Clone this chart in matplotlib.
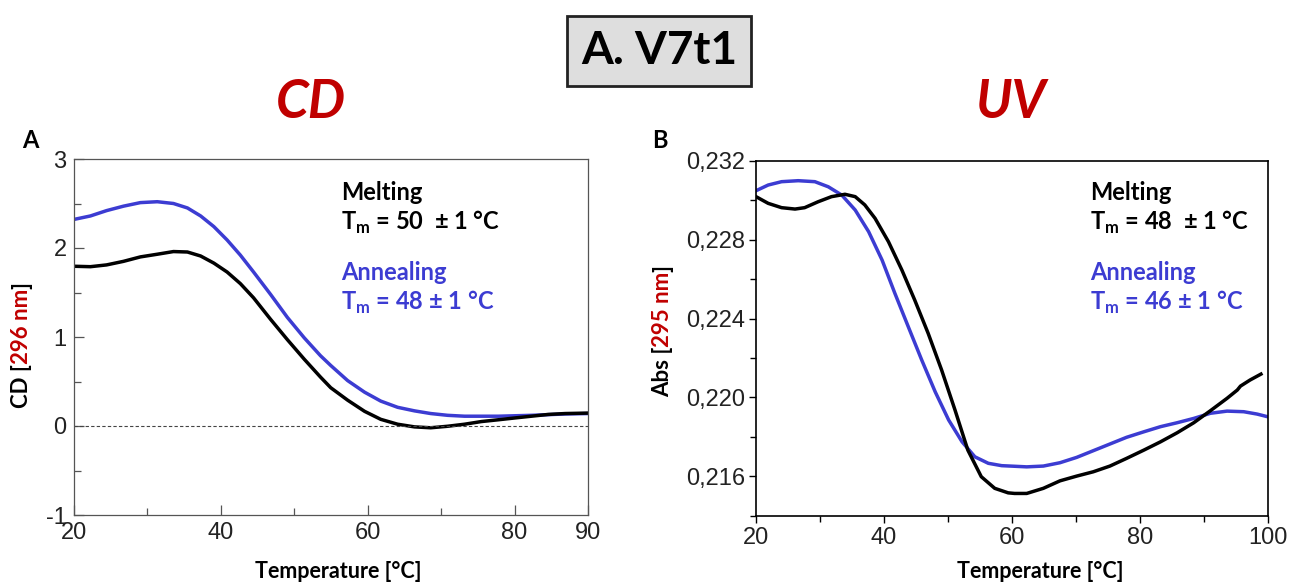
import matplotlib
matplotlib.use("Agg")
import matplotlib.pyplot as plt
import matplotlib.ticker as mticker

plt.rcParams["axes.unicode_minus"] = False

# --- CD (296 nm)
cd_T_melt = [20.0, 22.3, 24.5, 26.8, 29.1, 31.4, 33.6, 35.5, 37.3, 39.1, 40.9, 42.7, 44.5, 46.8,
             49.1, 51.4, 53.6, 55.0, 57.3, 59.6, 61.8, 64.1, 66.4, 68.6, 70.9, 73.2, 75.5,
             77.8, 80.0, 82.3, 84.6, 86.9, 90.0]
cd_melt = [1.795, 1.79, 1.81, 1.85, 1.90, 1.93, 1.96, 1.955, 1.91, 1.83, 1.73, 1.60, 1.44, 1.20,
           0.97, 0.75, 0.55, 0.43, 0.29, 0.165, 0.075, 0.02, -0.01, -0.02, -0.003, 0.02, 0.05,
           0.07, 0.09, 0.11, 0.13, 0.14, 0.145]
cd_T_ann = [20.0, 22.3, 24.5, 26.8, 29.1, 31.4, 33.6, 35.5, 37.3, 39.1, 40.9, 42.7, 44.5, 46.8,
            49.1, 51.4, 53.6, 55.0, 57.3, 59.6, 61.8, 64.1, 66.4, 68.6, 70.9, 73.2, 77.8,
            82.3, 86.9, 90.0]
cd_ann = [2.32, 2.36, 2.42, 2.47, 2.51, 2.52, 2.50, 2.45, 2.36, 2.24, 2.09, 1.92, 1.73, 1.48,
          1.22, 0.99, 0.79, 0.68, 0.51, 0.38, 0.28, 0.21, 0.17, 0.14, 0.12, 0.11, 0.11,
          0.12, 0.135, 0.14]

# --- UV (295 nm)
uv_T_melt = [20.0, 21.9, 24.0, 26.1, 27.6, 29.7, 31.8, 33.9, 35.5, 37.0, 38.6, 40.7, 42.8, 44.8,
             46.9, 49.0, 51.1, 53.1, 55.2, 57.3, 59.4, 60.4, 62.3, 64.9, 67.5, 70.1, 72.7,
             75.3, 77.9, 80.6, 83.2, 85.8, 88.4, 91.0, 93.6, 95.2, 95.7, 97.2, 98.9]
uv_melt = [0.23019, 0.22985, 0.22963, 0.22956, 0.22963, 0.22993, 0.23019, 0.23031, 0.23019,
           0.22977, 0.22909, 0.22790, 0.22646, 0.22494, 0.22325, 0.22139, 0.21935, 0.21732,
           0.21597, 0.21538, 0.21515, 0.21512, 0.21512, 0.21538, 0.21576, 0.21600, 0.21622,
           0.21651, 0.21690, 0.21732, 0.21774, 0.21820, 0.21871, 0.21932, 0.21995, 0.22037,
           0.22057, 0.22088, 0.22118]
uv_T_ann = [20.0, 21.9, 24.0, 26.6, 29.2, 31.3, 33.4, 35.5, 37.6, 39.7, 41.7, 43.8, 45.9, 48.0,
            50.1, 52.2, 54.2, 56.3, 58.4, 60.4, 62.3, 64.9, 67.5, 70.1, 72.7, 75.3, 77.9,
            80.6, 83.2, 85.8, 88.4, 91.0, 93.6, 96.2, 98.3, 100.0]
uv_ann = [0.23049, 0.23078, 0.23095, 0.23100, 0.23095, 0.23069, 0.23027, 0.22951, 0.22841,
          0.22697, 0.22528, 0.22358, 0.22189, 0.22028, 0.21885, 0.21774, 0.21698, 0.21665,
          0.21653, 0.21650, 0.21647, 0.21651, 0.21668, 0.21695, 0.21729, 0.21763, 0.21797,
          0.21825, 0.21851, 0.21871, 0.21893, 0.21919, 0.21930, 0.21927, 0.21915, 0.21901]

cd_labels = ["Melting", "T$_\\mathregular{m}$ = 50  \u00b1 1 \u00b0C", "Annealing", "T$_\\mathregular{m}$ = 48 \u00b1 1 \u00b0C"]
uv_labels = ["Melting", "T$_\\mathregular{m}$ = 48  \u00b1 1 \u00b0C", "Annealing", "T$_\\mathregular{m}$ = 46 \u00b1 1 \u00b0C"]

BLUE = "#3c3cd2"
RED = "#c00000"
TXT = ["Lato", "DejaVu Sans"]
TICKF = ["Liberation Sans Narrow", "Liberation Sans", "DejaVu Sans"]

fig = plt.figure(figsize=(12.95, 5.83), dpi=100)
W, H = 1295, 583


def px_axes(x0, y0, x1, y1):
    return fig.add_axes([x0 / W, 1 - y1 / H, (x1 - x0) / W, (y1 - y0) / H])


ax1 = px_axes(73.5, 159, 588, 515)
ax2 = px_axes(756, 161, 1268, 515.5)

# left panel (CD)
ax1.plot(cd_T_ann, cd_ann, color=BLUE, lw=2.5, solid_capstyle="round", solid_joinstyle="round")
ax1.plot(cd_T_melt, cd_melt, color="black", lw=2.5, solid_capstyle="round", solid_joinstyle="round")
ax1.axhline(0, color="#444444", lw=0.8, ls=(0, (3, 2)))
ax1.set_xlim(20, 90)
ax1.set_ylim(-1, 3)
ax1.set_xticks([20, 40, 60, 80, 90])
ax1.set_xticks([30, 50, 70], minor=True)
ax1.set_yticks([-1, 0, 1, 2, 3])
ax1.set_yticks([-0.5, 0.5, 1.5, 2.5], minor=True)
ax1.tick_params(which="both", direction="in", color="#555555", width=0.9)
ax1.tick_params(which="major", length=7, labelsize=17, pad=5)
ax1.tick_params(which="minor", length=5)
for s in ax1.spines.values():
    s.set_color("#555555")
    s.set_linewidth(0.9)

# right panel (UV)
ax2.plot(uv_T_ann, uv_ann, color=BLUE, lw=2.5, solid_joinstyle="round")
ax2.plot(uv_T_melt, uv_melt, color="black", lw=2.5, solid_joinstyle="round")
ax2.set_xlim(20, 100)
ax2.set_ylim(0.214, 0.232)
ax2.set_xticks([20, 40, 60, 80, 100])
ax2.set_xticks([30, 50, 70, 90], minor=True)
ax2.set_yticks([0.216, 0.220, 0.224, 0.228, 0.232])
ax2.set_yticks([0.214, 0.218, 0.222, 0.226, 0.230], minor=True)
ax2.yaxis.set_major_formatter(mticker.FuncFormatter(lambda v, p: f"{v:.3f}".replace(".", ",")))
ax2.tick_params(which="both", direction="out", color="black", width=1.0)
ax2.tick_params(which="major", length=5, labelsize=17, pad=3)
ax2.tick_params(which="minor", length=4)
for s in ax2.spines.values():
    s.set_color("black")
    s.set_linewidth(1.2)

for ax in (ax1, ax2):
    for lab in ax.get_xticklabels() + ax.get_yticklabels():
        lab.set_family(TICKF)
        lab.set_color("#222222")

# Tm annotations
for labels, xl in ((cd_labels, 341), (uv_labels, 1090)):
    cols = ["black", "black", BLUE, BLUE]
    ys = [192, 222, 272, 302]
    for lab, c, y in zip(labels, cols, ys):
        fig.text(xl / W, 1 - y / H, lab, color=c, fontsize=17, fontweight="bold",
                 family=TXT, va="center", ha="left")

# panel titles
fig.text(311 / W, 1 - 103 / H, "CD", color=RED, fontsize=38, fontweight="bold",
         style="italic", family=TXT, ha="center", va="center")
fig.text(1011 / W, 1 - 103 / H, "UV", color=RED, fontsize=38, fontweight="bold",
         style="italic", family=TXT, ha="center", va="center")
fig.text(30 / W, 1 - 140 / H, "A", fontsize=17, fontweight="bold", family=TXT, ha="center", va="center")
fig.text(660 / W, 1 - 140 / H, "B", fontsize=17, fontweight="bold", family=TXT, ha="center", va="center")

fig.text(659 / W, 1 - 51 / H, "A. V7t1", fontsize=33, fontweight="bold", family=TXT,
         ha="center", va="center",
         bbox=dict(boxstyle="square,pad=0.3", facecolor="#dedede", edgecolor="#222222", linewidth=2))

# x labels
fig.text(338 / W, 1 - 572 / H, "Temperature [\u00b0C]", fontsize=15.5, fontweight="bold",
         family=TXT, ha="center", va="center")
fig.text(1040 / W, 1 - 572 / H, "Temperature [\u00b0C]", fontsize=15.5, fontweight="bold",
         family=TXT, ha="center", va="center")


# multi-coloured rotated y labels
def color_ylabel(x, ycenter, parts):
    r = fig.canvas.get_renderer()
    texts = []
    for s, c in parts:
        t = fig.text(0, 0, s, color=c, fontsize=16, fontweight="bold", family=TXT,
                     rotation=90, rotation_mode="anchor", ha="left", va="baseline")
        texts.append(t)
    lens = [t.get_window_extent(r).height for t in texts]
    y = ycenter - sum(lens) / 2
    for t, L in zip(texts, lens):
        t.set_position((x / W, y / H))
        y += L


color_ylabel(28, H - 345, [("CD [", "black"), ("296 nm", RED), ("]", "black")])
color_ylabel(669, H - 331, [("Abs [", "black"), ("295 nm", RED), ("]", "black")])

fig.savefig("out.png", dpi=100)
